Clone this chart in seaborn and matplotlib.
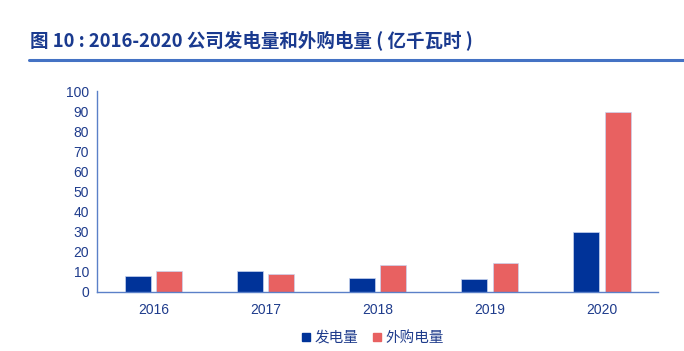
import matplotlib
matplotlib.use("Agg")
import matplotlib.pyplot as plt
import seaborn as sns
import pandas as pd
from matplotlib.lines import Line2D

# 数据（亿千瓦时）
years = ["2016", "2017", "2018", "2019", "2020"]
fadian = [7.7, 10.2, 6.9, 6.4, 29.6]      # 发电量
waigou = [10.2, 8.9, 13.4, 14.3, 89.3]    # 外购电量
series_names = ["发电量", "外购电量"]
colors = ["#003399", "#E86161"]

df = pd.DataFrame({
    "年份": years * 2,
    "值": fadian + waigou,
    "类别": [series_names[0]] * len(years) + [series_names[1]] * len(years),
})

sns.set_style("white")
plt.rcParams["font.family"] = ["Liberation Sans", "Noto Sans CJK SC", "DejaVu Sans"]

axis_c = "#5B80C8"
text_c = "#1F3C8C"

fig = plt.figure(figsize=(6.84, 3.51), dpi=100)
ax = fig.add_axes([0.1423, 0.169, 0.8197, 0.5717])

sns.barplot(data=df, x="年份", y="值", hue="类别", palette=colors, saturation=1,
            width=0.56, gap=0.18, ax=ax, legend=False,
            edgecolor="#C8D4F0", linewidth=0.5)

ax.set_ylim(0, 100)
ax.set_xlim(-0.5, len(years) - 0.5)
ax.set_yticks(range(0, 101, 10))
ax.set_xlabel("")
ax.set_ylabel("")

for s in ["top", "right"]:
    ax.spines[s].set_visible(False)
for s in ["left", "bottom"]:
    ax.spines[s].set_color(axis_c)
    ax.spines[s].set_linewidth(1.0)

# x 轴刻度在类别边界
ax.set_xticks([i - 0.5 for i in range(len(years) + 1)])
ax.set_xticklabels([""] * (len(years) + 1))
ax.set_xticks(range(len(years)), minor=True)
ax.set_xticklabels(years, minor=True)
ax.tick_params(axis="x", which="major", direction="out", length=4, color=axis_c, width=1)
ax.tick_params(axis="x", which="minor", length=0, pad=8, labelsize=10, labelcolor=text_c)
ax.tick_params(axis="y", direction="out", length=4, color=axis_c, width=1,
               labelsize=10, labelcolor=text_c, pad=2)

# 图例
handles = [Line2D([], [], marker="s", linestyle="", markersize=5.5, color=c) for c in colors]
fig.legend(handles, series_names, loc="center", bbox_to_anchor=(0.545, 0.037),
           ncol=2, frameon=False, handlelength=0.6, handletextpad=0.3, columnspacing=1.0,
           prop={"family": ["Noto Sans CJK SC"], "size": 10.5}, labelcolor=text_c)

# 标题和分隔线
fig.text(0.044, 0.885, "图 10 : 2016-2020 公司发电量和外购电量 ( 亿千瓦时 )",
         fontsize=13.3, fontweight="bold", color="#1A3A8F", va="center",
         family=["Noto Sans CJK SC"])
fig.add_artist(Line2D([0.042, 1.0], [0.83, 0.83], color="#4472C4", linewidth=2.2,
                      transform=fig.transFigure))

fig.savefig("out.png", dpi=100)
